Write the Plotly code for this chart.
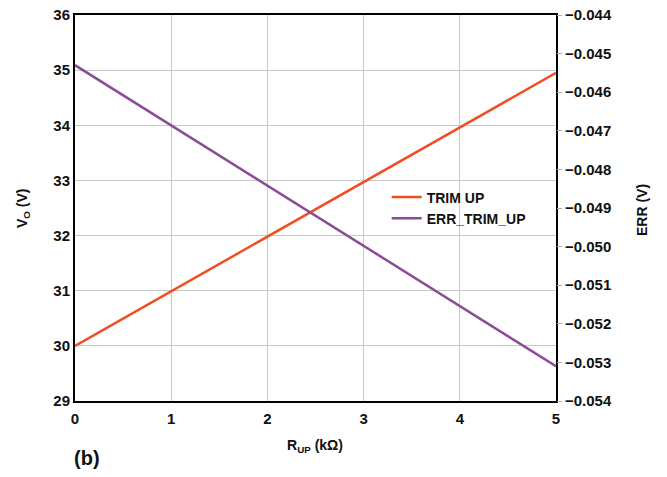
import plotly.graph_objects as go

r_up = [0, 1, 2, 3, 4, 5]
trim_up = [30.0, 30.99, 31.98, 32.97, 33.96, 34.95]
err_trim_up = [-0.0453, -0.04686, -0.04842, -0.04998, -0.05154, -0.0531]

left_ticks = [29, 30, 31, 32, 33, 34, 35, 36]
right_ticks = [-0.054, -0.053, -0.052, -0.051, -0.050, -0.049, -0.048, -0.047, -0.046, -0.045, -0.044]
right_labels = ["\u2212%.3f" % abs(v) for v in right_ticks]

FAM = "Liberation Sans, Arial, sans-serif"
font = dict(family=FAM, size=15, color="#111")

fig = go.Figure()
fig.add_trace(go.Scatter(x=r_up, y=trim_up, mode="lines", name="<b>TRIM UP</b>",
                         line=dict(color="#F04E23", width=2.5)))
fig.add_trace(go.Scatter(x=r_up, y=err_trim_up, mode="lines", name="<b>ERR_TRIM_UP</b>",
                         line=dict(color="#8B4C96", width=2.5), yaxis="y2"))

fig.update_layout(
    width=667, height=477,
    margin=dict(l=75, r=111, t=15, b=76),
    paper_bgcolor="white", plot_bgcolor="white",
    font=font,
    showlegend=True,
    legend=dict(x=0.648, y=0.50, xanchor="left", yanchor="middle", bgcolor="rgba(0,0,0,0)",
                font=dict(size=14, color="#111"), tracegroupgap=0, itemwidth=30),
    xaxis=dict(range=[0, 5], tickvals=r_up, ticktext=["<b>%d</b>" % v for v in r_up],
               showgrid=True, gridcolor="#C8C8C8", gridwidth=1, zeroline=False,
               showline=True, linecolor="black", linewidth=2, mirror=True, ticks="",
               ticklabelstandoff=3,
               automargin=False, tickfont=dict(size=15)),
    yaxis=dict(range=[29, 36], tickvals=left_ticks, ticktext=["<b>%d</b>" % v for v in left_ticks],
               showgrid=True, gridcolor="#C8C8C8", gridwidth=1, zeroline=False,
               showline=True, linecolor="black", linewidth=2, mirror=True, ticks="",
               automargin=False, tickfont=dict(size=15)),
    yaxis2=dict(range=[-0.054, -0.044], overlaying="y", side="right",
                tickvals=right_ticks, ticktext=["<b>%s</b>" % t for t in right_labels],
                showgrid=False, zeroline=False, ticks="outside", ticklen=5, tickcolor="#AAAAAA",
                showline=False, automargin=False, tickfont=dict(size=15)),
)

W, H = 667, 477
L, R, T, B = 75, 111, 15, 76
pw, ph = W - L - R, H - T - B

def px_x(x):
    return (x - L) / pw

def px_y(y):
    return (H - B - y) / ph

fig.add_annotation(text="<b>V<sub>O</sub> (V)</b>", xref="paper", yref="paper",
                   x=px_x(23), y=px_y(208), xanchor="center", yanchor="middle",
                   textangle=-90, showarrow=False, font=dict(size=14, color="#111"))
fig.add_annotation(text="<b>ERR (V)</b>", xref="paper", yref="paper",
                   x=px_x(642), y=px_y(210), xanchor="center", yanchor="middle",
                   textangle=-90, showarrow=False, font=dict(size=14, color="#111"))
fig.add_annotation(text="<b>R<sub>UP</sub> (k\u03A9)</b>", xref="paper", yref="paper",
                   x=px_x(315), y=px_y(446), xanchor="center", yanchor="middle",
                   showarrow=False, font=dict(size=14, color="#111"))
fig.add_annotation(text="<b>(b)</b>", xref="paper", yref="paper",
                   x=px_x(72), y=px_y(458), xanchor="left", yanchor="middle",
                   showarrow=False, font=dict(size=20, color="#111"))

fig.write_html("out.html", config={"displayModeBar": False},
               post_script="document.body.style.margin='0px';document.body.style.overflow='hidden';")
